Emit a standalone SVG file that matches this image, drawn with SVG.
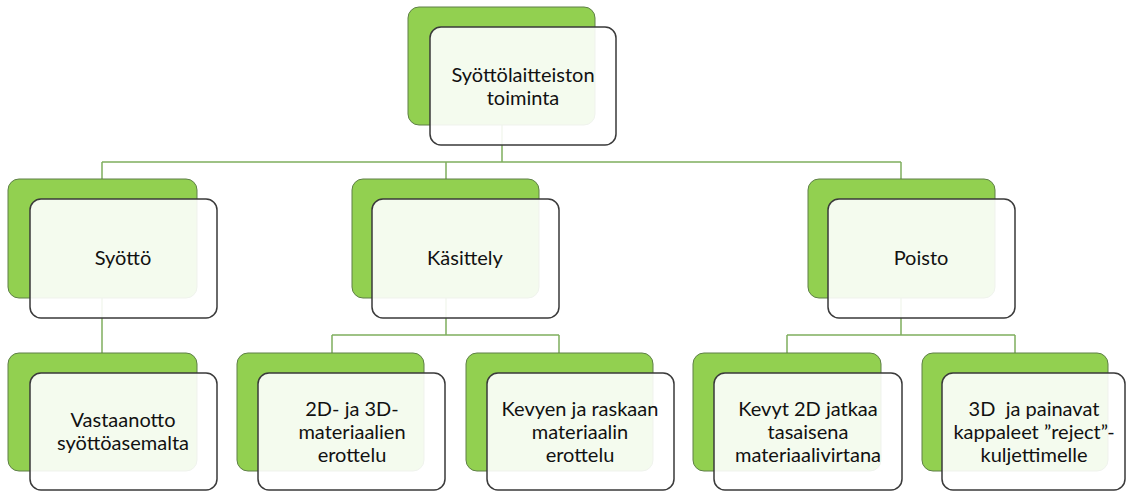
<svg xmlns="http://www.w3.org/2000/svg" width="1126" height="491" viewBox="0 0 1126 491">
<style>
.back{fill:#92d050;stroke:#5e7f47;stroke-width:1}
.front{fill:#ffffff;fill-opacity:0.9;stroke:#3a3a3a;stroke-width:1.5}
.conn{fill:none;stroke:#7fae5e;stroke-width:1.5}
text{font-family:Lato,"Open Sans",sans-serif;font-size:20px;fill:#111111;text-anchor:middle}
</style>
<rect width="1126" height="491" fill="#ffffff"/>
<g id="connectors">
<path class="conn" d="M502 125 V162 M102 162 H901 M102 162 V179 M446 162 V179 M901 162 V179"/>
<path class="conn" d="M102 298 V353"/>
<path class="conn" d="M446 298 V335 M332 335 H559 M332 335 V353 M559 335 V353"/>
<path class="conn" d="M901 298 V335 M787 335 H1015 M787 335 V353 M1015 335 V353"/>
</g>
<g id="n-top">
<rect class="back" x="408" y="7" width="187" height="118" rx="11"/>
<rect class="front" x="430" y="27" width="186" height="118" rx="11"/>
<text x="523" y="82">Syöttölaitteiston</text>
<text x="523" y="105">toiminta</text>
</g>
<g id="n-syotto">
<rect class="back" x="8" y="179" width="189" height="119" rx="11"/>
<rect class="front" x="30" y="199" width="187" height="119" rx="11"/>
<text x="123" y="265">Syöttö</text>
</g>
<g id="n-kasittely">
<rect class="back" x="352" y="179" width="187" height="119" rx="11"/>
<rect class="front" x="372" y="199" width="187" height="119" rx="11"/>
<text x="465" y="265">Käsittely</text>
</g>
<g id="n-poisto">
<rect class="back" x="808" y="179" width="187" height="119" rx="11"/>
<rect class="front" x="828" y="199" width="187" height="119" rx="11"/>
<text x="921" y="265">Poisto</text>
</g>
<g id="n-vastaanotto">
<rect class="back" x="8" y="353" width="189" height="118" rx="11"/>
<rect class="front" x="30" y="373" width="187" height="117" rx="11"/>
<text x="123" y="427">Vastaanotto</text>
<text x="123" y="450">syöttöasemalta</text>
</g>
<g id="n-2d3d">
<rect class="back" x="237" y="353" width="187" height="118" rx="11"/>
<rect class="front" x="258" y="373" width="187" height="117" rx="11"/>
<text x="352" y="416">2D- ja 3D-</text>
<text x="352" y="439">materiaalien</text>
<text x="352" y="462">erottelu</text>
</g>
<g id="n-kevyen">
<rect class="back" x="466" y="353" width="187" height="118" rx="11"/>
<rect class="front" x="487" y="373" width="187" height="117" rx="11"/>
<text x="580" y="416">Kevyen ja raskaan</text>
<text x="580" y="439">materiaalin</text>
<text x="580" y="462">erottelu</text>
</g>
<g id="n-kevyt2d">
<rect class="back" x="693" y="353" width="188" height="118" rx="11"/>
<rect class="front" x="714" y="373" width="188" height="117" rx="11"/>
<text x="808" y="416">Kevyt 2D jatkaa</text>
<text x="808" y="439">tasaisena</text>
<text x="808" y="462">materiaalivirtana</text>
</g>
<g id="n-3d">
<rect class="back" x="922" y="353" width="186" height="118" rx="11"/>
<rect class="front" x="942" y="373" width="183" height="117" rx="11"/>
<text x="1034" y="416" xml:space="preserve">3D  ja painavat</text>
<text x="1034" y="439">kappaleet ”reject”-</text>
<text x="1034" y="462">kuljettimelle</text>
</g>
</svg>
